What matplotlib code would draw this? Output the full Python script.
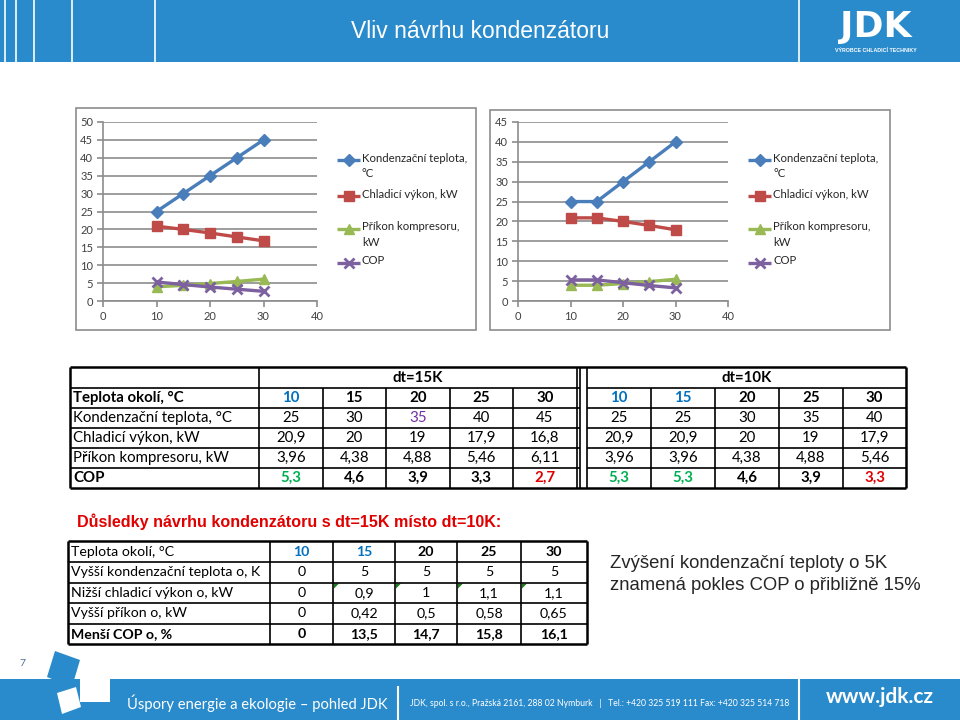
import matplotlib
matplotlib.use('Agg')
import matplotlib.pyplot as plt
from matplotlib.patches import Rectangle, Polygon

# ---------------- data ----------------
ambient = [10, 15, 20, 25, 30]
# dt = 15K
cond15 = [25, 30, 35, 40, 45]
cool15 = [20.9, 20, 19, 17.9, 16.8]
power15 = [3.96, 4.38, 4.88, 5.46, 6.11]
cop15 = [5.3, 4.6, 3.9, 3.3, 2.7]
# dt = 10K
cond10 = [25, 25, 30, 35, 40]
cool10 = [20.9, 20.9, 20, 19, 17.9]
power10 = [3.96, 3.96, 4.38, 4.88, 5.46]
cop10 = [5.3, 5.3, 4.6, 3.9, 3.3]
# consequences table
diff_cond = [0, 5, 5, 5, 5]
diff_cool = [0, 0.9, 1, 1.1, 1.1]
diff_power = [0, 0.42, 0.5, 0.58, 0.65]
diff_cop = [0, 13.5, 14.7, 15.8, 16.1]

series_names = ["Kondenzační teplota,\n°C", "Chladicí výkon, kW",
                "Příkon kompresoru,\nkW", "COP"]
row_labels = ["Teplota okolí, °C", "Kondenzační teplota, °C", "Chladicí výkon, kW",
              "Příkon kompresoru, kW", "COP"]
row_labels2 = ["Teplota okolí, °C", "Vyšší kondenzační teplota o, K",
               "Nižší chladicí výkon o, kW", "Vyšší příkon o, kW", "Menší COP o, %"]

# ---------------- style ----------------
W, H = 960, 720
CAL = ['Lato', 'DejaVu Sans']
ARIAL = ['Liberation Sans', 'DejaVu Sans']
BAND = '#2A8BCC'
COLORS = ['#4A7EBB', '#BE4B48', '#98B954', '#7D60A0']
MARKERS = [('D', 6), ('s', 7), ('^', 7), ('x', 7.5)]
GRID = '#8C8C8C'
BLUE_T = '#0070C0'
PURPLE_T = '#7030A0'
GREEN_T = '#00B050'
RED_T = '#E00000'

plt.rcParams['font.family'] = CAL

fig = plt.figure(figsize=(9.6, 7.2), dpi=100)
bg = fig.add_axes([0, 0, 1, 1])
bg.set_xlim(0, W)
bg.set_ylim(H, 0)
bg.axis('off')


def fmt(v):
    return f"{v:g}".replace('.', ',')


def hline(x0, x1, y, lw=1.2, c='black'):
    bg.plot([x0, x1], [y, y], color=c, lw=lw, solid_capstyle='butt')


def vline(x, y0, y1, lw=1.2, c='black'):
    bg.plot([x, x], [y0, y1], color=c, lw=lw, solid_capstyle='butt')


# ---------------- header ----------------
bg.add_patch(Rectangle((0, 0), W, 62, color=BAND, lw=0))
for x in [5, 16, 34, 72, 155, 799]:
    vline(x, 0, 62, lw=1.2, c='white')
bg.text(480, 32, "Vliv návrhu kondenzátoru", color='white', fontsize=16.5,
        family=['Liberation Sans Narrow', 'Liberation Sans'], ha='center', va='center')
bg.text(876, 37, "JDK", color='white', fontsize=26, family=['DejaVu Sans'],
        weight='bold', ha='center', va='baseline')
bg.text(876, 48, "VÝROBCE CHLADICÍ TECHNIKY", color='white', fontsize=3.8,
        family=ARIAL, weight='bold', ha='center', va='top')


# ---------------- charts ----------------
def make_chart(px0, py0, px1, py1, ymax, data, frame, legx):
    bg.add_patch(Rectangle((frame[0], frame[1]), frame[2] - frame[0], frame[3] - frame[1],
                           fill=False, ec='#8C8C8C', lw=1.2))
    ax = fig.add_axes([px0 / W, 1 - py1 / H, (px1 - px0) / W, (py1 - py0) / H])
    ax.set_facecolor('none')
    lines = []
    for vals, c, (m, ms) in zip(data, COLORS, MARKERS):
        ln, = ax.plot(ambient, vals, color=c, lw=2.4, marker=m, ms=ms,
                      mew=2 if m == 'x' else 1, mec=c, mfc=c)
        lines.append(ln)
    ax.set_xlim(0, 40)
    ax.set_ylim(0, ymax)
    ax.set_xticks([0, 10, 20, 30, 40])
    ax.set_yticks(list(range(0, ymax + 1, 5)))
    for s in ['top', 'right']:
        ax.spines[s].set_visible(False)
    for s in ['left', 'bottom']:
        ax.spines[s].set_color(GRID)
        ax.spines[s].set_linewidth(1.2)
    ax.yaxis.grid(True, color=GRID, lw=1.2)
    ax.set_axisbelow(True)
    ax.tick_params(direction='out', length=4, width=1.2, color=GRID,
                   labelsize=8, labelcolor='#404040', pad=3)
    # legend (manual placement)
    ys = [160, 196, 229, 263]
    for ln, name, y in zip(lines, series_names, ys):
        bg.plot([legx, legx + 23], [y, y], color=ln.get_color(), lw=2.4,
                solid_capstyle='butt')
        bg.plot([legx + 11.5], [y], marker=ln.get_marker(), ms=ln.get_markersize(),
                mew=ln.get_markeredgewidth(), color=ln.get_color())
        bg.text(legx + 25, y - 7.5, name, fontsize=8.2, color='#262626',
                va='top', ha='left', linespacing=1.45)
    return ax


make_chart(103, 122, 317, 301, 50, [cond15, cool15, power15, cop15],
           (76, 108, 476, 330), 337)
make_chart(518, 122, 728, 301, 45, [cond10, cool10, power10, cop10],
           (490, 110, 890, 330), 748)

# ---------------- table 1 ----------------
rows = [367, 388, 408, 428, 448, 468, 488]
tx0, tlab = 70, 259
g1 = [259, 322.5, 386, 449.5, 513, 577]
g2 = [587, 651, 715, 779, 843, 906]
sepA, sepB = 580, 587
TFS = 10.8

hline(tx0, 906, rows[0], lw=1.8)
hline(tx0, 906, rows[-1], lw=1.8)
for y in rows[1:-1]:
    hline(tx0, sepA, y)
    hline(sepB, 906, y)
vline(tx0, rows[0], rows[-1], lw=1.8)
vline(906, rows[0], rows[-1], lw=1.8)
vline(tlab, rows[0], rows[-1])
vline(577, rows[0], rows[-1])
vline(sepA, rows[0], rows[-1])
vline(sepB, rows[0], rows[-1])
for x in g1[1:-1] + g2[1:-1]:
    vline(x, rows[1], rows[-1])

bg.text((g1[0] + g1[-1]) / 2, (rows[0] + rows[1]) / 2, "dt=15K", fontsize=TFS,
        weight='bold', ha='center', va='center')
bg.text((g2[0] + g2[-1]) / 2, (rows[0] + rows[1]) / 2, "dt=10K", fontsize=TFS,
        weight='bold', ha='center', va='center')

tbl15 = [ambient, cond15, cool15, power15, cop15]
tbl10 = [ambient, cond10, cool10, power10, cop10]
colors15 = [[BLUE_T, 'k', 'k', 'k', 'k'],
            ['k', 'k', PURPLE_T, 'k', 'k'],
            ['k'] * 5, ['k'] * 5,
            [GREEN_T, 'k', 'k', 'k', RED_T]]
colors10 = [[BLUE_T, BLUE_T, 'k', 'k', 'k'],
            ['k'] * 5, ['k'] * 5, ['k'] * 5,
            [GREEN_T, GREEN_T, 'k', 'k', RED_T]]
bold_rows = [0, 4]
for r in range(5):
    yc = (rows[r + 1] + rows[r + 2]) / 2
    wt = 'bold' if r in bold_rows else 'normal'
    bg.text(tx0 + 3, yc, row_labels[r], fontsize=TFS, weight=wt, ha='left', va='center')
    for c in range(5):
        bg.text((g1[c] + g1[c + 1]) / 2, yc, fmt(tbl15[r][c]), fontsize=TFS, weight=wt,
                color=colors15[r][c], ha='center', va='center')
        bg.text((g2[c] + g2[c + 1]) / 2, yc, fmt(tbl10[r][c]), fontsize=TFS, weight=wt,
                color=colors10[r][c], ha='center', va='center')

# ---------------- heading ----------------
bg.text(77, 522, "Důsledky návrhu kondenzátoru s dt=15K místo dt=10K:", color=RED_T,
        fontsize=11.6, weight='bold', family=ARIAL, ha='left', va='center')

# ---------------- table 2 ----------------
rows2 = [541, 562, 582.5, 603, 623.5, 644]
t2x0 = 68
cols2 = [270, 333, 395, 457, 521, 587]
TFS2 = 10.2
hline(t2x0, cols2[-1], rows2[0], lw=1.8)
hline(t2x0, cols2[-1], rows2[-1], lw=1.8)
for y in rows2[1:-1]:
    hline(t2x0, cols2[-1], y)
vline(t2x0, rows2[0], rows2[-1], lw=1.8)
vline(cols2[-1], rows2[0], rows2[-1], lw=1.8)
for x in cols2[:-1]:
    vline(x, rows2[0], rows2[-1])

tbl2 = [ambient, diff_cond, diff_cool, diff_power, diff_cop]
for r in range(5):
    yc = (rows2[r] + rows2[r + 1]) / 2
    wt_lab = 'bold' if r == 4 else 'normal'
    bg.text(t2x0 + 3, yc, row_labels2[r], fontsize=TFS2, weight=wt_lab,
            ha='left', va='center')
    for c in range(5):
        wt = 'bold' if r in (0, 4) else 'normal'
        col = BLUE_T if (r == 0 and c < 2) else 'k'
        bg.text((cols2[c] + cols2[c + 1]) / 2, yc, fmt(tbl2[r][c]), fontsize=TFS2,
                weight=wt, color=col, ha='center', va='center')
for c in range(1, 5):
    x = cols2[c]
    y = rows2[2]
    bg.add_patch(Polygon([[x + 1, y + 1], [x + 6, y + 1], [x + 1, y + 6]],
                         closed=True, color='#1F7A1F', lw=0))

bg.text(610, 563, "Zvýšení kondenzační teploty o 5K", fontsize=13.3, family=ARIAL,
        color='#262626', ha='left', va='center')
bg.text(610, 585, "znamená pokles COP o přibližně 15%", fontsize=13.3, family=ARIAL,
        color='#262626', ha='left', va='center')

# ---------------- footer ----------------
bg.add_patch(Rectangle((0, 679), W, 41, color=BAND, lw=0))
bg.add_patch(Rectangle((80, 679), 30, 23, color='white', lw=0))
bg.add_patch(Polygon([[55, 651], [80, 660], [72, 687], [47, 677]], closed=True,
                     color=BAND, lw=0))
bg.add_patch(Polygon([[57, 693], [76, 687], [81, 707], [62, 714]], closed=True,
                     color='white', lw=0))
bg.text(22, 663, "7", fontsize=7.5, color='#4F6F95', ha='center', va='center')
bg.text(127, 703, "Úspory energie a ekologie – pohled JDK", fontsize=10.6, color='white',
        ha='left', va='center')
vline(398, 686, 720, lw=1.5, c='white')
bg.text(410, 703, "JDK, spol. s r.o., Pražská 2161, 288 02 Nymburk   |   "
        "Tel.: +420 325 519 111 Fax: +420 325 514 718", fontsize=6.2, color='white',
        ha='left', va='center')
vline(799, 679, 720, lw=1.5, c='white')
bg.text(880, 697, "www.jdk.cz", fontsize=15, color='white', ha='center',
        va='center', weight='bold')

fig.savefig('out.png', dpi=100)
